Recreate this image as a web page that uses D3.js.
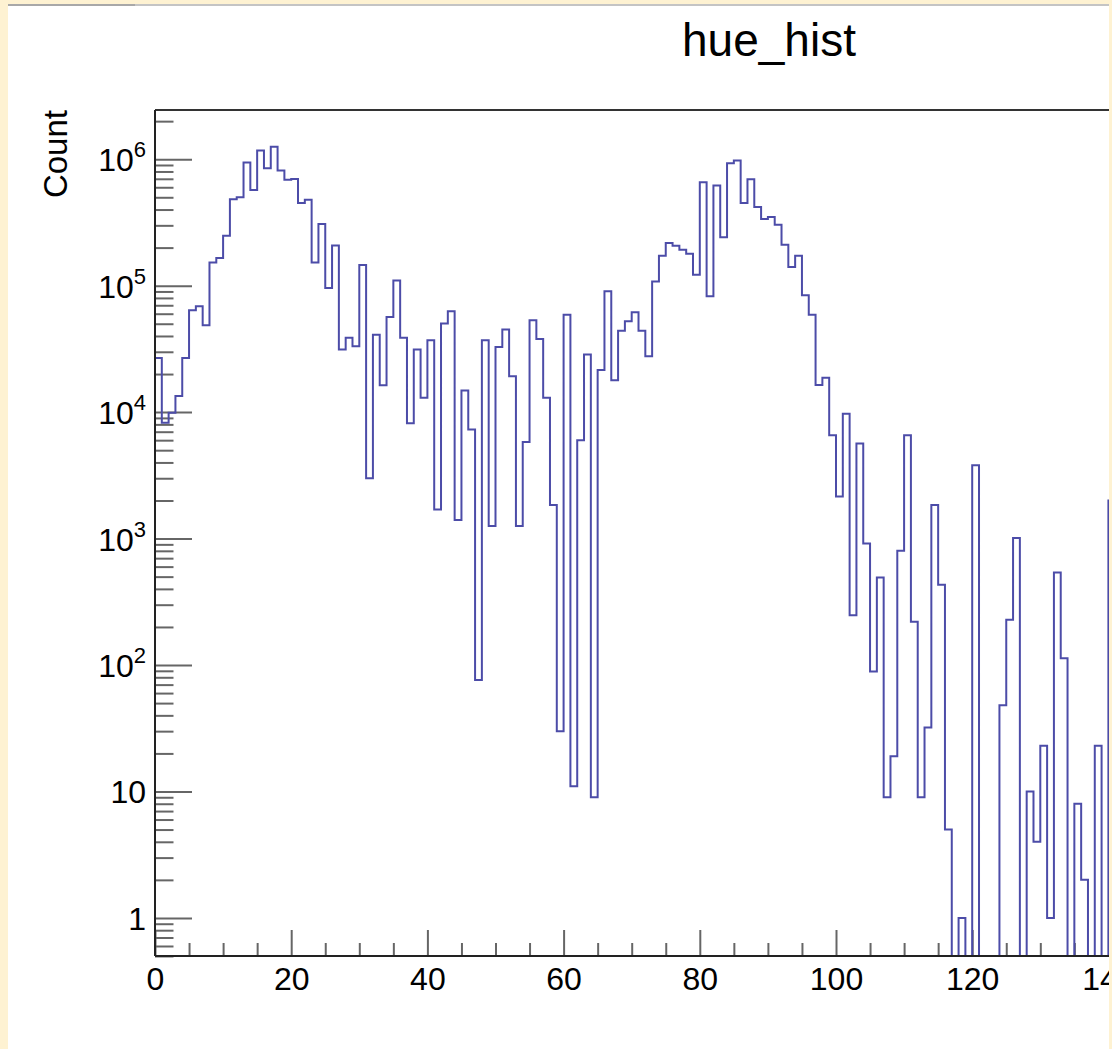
<!DOCTYPE html>
<html>
<head>
<meta charset="utf-8">
<script src="https://cdn.jsdelivr.net/npm/d3@7"></script>
<style>
html, body { margin: 0; padding: 0; background: #fef2d2; }
svg { display: block; }
text { font-family: "Liberation Sans", Arial, Helvetica, sans-serif; fill: #000; }
</style>
</head>
<body>
<svg id="chart" width="1112" height="1049"></svg>
<script>
// ---------------- data ----------------
const chartTitle = "hue_hist";
const yAxisTitle = "Count";
const binWidth = 1;
const xRange = [0, 180];
// counts per hue bin, starting at bin [0,1)
const counts = [
  26800, 8250, 9900, 13400, 26800, 63800, 68700, 48600, 152700, 165500,
  248000, 483000, 501000, 940000, 572000, 1170000, 849000, 1257000, 813000, 687000,
  699000, 450000, 477000, 152700, 308000, 95900, 208000, 31300, 38700, 33200,
  146000, 3000, 41000, 16300, 56600, 110000, 38700, 8150, 31300, 13000,
  37000, 1700, 50100, 62700, 1400, 14800, 7300, 76, 37000, 1260,
  32800, 45000, 19200, 1260, 5800, 53200, 37900, 13000, 1840, 30,
  59000, 11, 6000, 28500, 9, 21500, 90200, 17900, 44100, 52300,
  61500, 44100, 27700, 108000, 172500, 217000, 207000, 192000, 179000, 122000,
  658000, 82400, 619000, 242000, 930000, 975000, 450000, 695000, 418000, 336000,
  349000, 303000, 211000, 140600, 172500, 83800, 59000, 16400, 18700, 6550,
  2150, 9700, 248, 5660, 915, 89, 493, 9, 19, 800,
  6550, 220, 9, 32, 1840, 431, 5, 0, 1, 0,
  3800, 0, 0, 0, 48, 228, 1010, 0, 10, 4,
  23, 1, 540, 113, 0, 8, 2, 0, 23, 0,
  2000
];
const xMajorTicks = [0, 20, 40, 60, 80, 100, 120, 140, 160, 180];
const xTickLabels = ["0", "20", "40", "60", "80", "100", "120", "140", "160", "180"];
const yMajorTicks = [1, 10, 100, 1000, 10000, 100000, 1000000];
const yTickLabels = ["1", "10", "10^2", "10^3", "10^4", "10^5", "10^6"];
const yDomain = [0.5, 2.45e6];

// ---------------- layout ----------------
const W = 1112, H = 1049;
const plot = { left: 155, top: 110, bottom: 956, right: 155 + 180 * 6.81 };
const visibleRight = 1109;

const svg = d3.select("#chart");

// white canvas area with screenshot edge
svg.append("rect").attr("x", 8).attr("y", 5).attr("width", visibleRight - 8).attr("height", H - 5).attr("fill", "#ffffff");
svg.append("line").attr("x1", 8).attr("x2", visibleRight).attr("y1", 5).attr("y2", 5)
  .attr("stroke", "#c4c4c4").attr("stroke-width", 2);
svg.append("line").attr("x1", 8).attr("x2", 135).attr("y1", 5).attr("y2", 5)
  .attr("stroke", "#a8a8a8").attr("stroke-width", 2);

const x = d3.scaleLinear().domain(xRange).range([plot.left, plot.right]);
const y = d3.scaleLog().domain(yDomain).range([plot.bottom, plot.top]);

svg.append("defs").append("clipPath").attr("id", "clipVis")
  .append("rect").attr("x", 0).attr("y", 0).attr("width", visibleRight).attr("height", H);
svg.append("defs").append("clipPath").attr("id", "clipPlot")
  .append("rect").attr("x", plot.left - 2).attr("y", plot.top - 2)
  .attr("width", visibleRight - plot.left + 2).attr("height", plot.bottom - plot.top + 4);

const g = svg.append("g").attr("clip-path", "url(#clipVis)");

// ---------------- axes ticks ----------------
const xMinor = d3.range(xRange[0], xRange[1] + 0.001, 5).filter(v => !xMajorTicks.includes(v));
const xAxisMajor = d3.axisBottom(x).tickValues(xMajorTicks)
  .tickFormat((d, i) => xTickLabels[i]).tickSizeInner(-26).tickSizeOuter(0).tickPadding(11);
const xAxisMinor = d3.axisBottom(x).tickValues(xMinor).tickFormat("").tickSizeInner(-13).tickSizeOuter(0);

const gxMinor = g.append("g").attr("transform", `translate(0,${plot.bottom})`).call(xAxisMinor);
const gx = g.append("g").attr("transform", `translate(0,${plot.bottom})`).call(xAxisMajor);
[gx, gxMinor].forEach(a => {
  a.select(".domain").remove();
  a.selectAll(".tick line").attr("stroke", "#666").attr("stroke-width", 2);
});
gx.selectAll(".tick text").attr("font-size", 32).attr("font-family", "Liberation Sans, Arial, sans-serif").attr("fill", "#000");

// y minor ticks (2..9 x decade)
const yMinor = [];
[0.1, 1, 10, 100, 1000, 10000, 100000, 1000000].forEach(dec => {
  for (let k = 2; k <= 9; k++) {
    const v = dec * k;
    if (v >= yDomain[0] && v <= yDomain[1]) yMinor.push(v);
  }
});
const yAxisMajor = d3.axisLeft(y).tickValues(yMajorTicks).tickFormat("").tickSizeInner(-37).tickSizeOuter(0);
const yAxisMinor = d3.axisLeft(y).tickValues(yMinor).tickFormat("").tickSizeInner(-18.5).tickSizeOuter(0);
const gyMinor = g.append("g").attr("transform", `translate(${plot.left},0)`).call(yAxisMinor);
const gy = g.append("g").attr("transform", `translate(${plot.left},0)`).call(yAxisMajor);
[gy, gyMinor].forEach(a => {
  a.select(".domain").remove();
  a.selectAll(".tick line").attr("stroke", "#666").attr("stroke-width", 2);
});

// y tick labels with superscripts
yMajorTicks.forEach((v, i) => {
  const lab = yTickLabels[i];
  const t = g.append("text").attr("x", plot.left - 9).attr("y", y(v) + 12)
    .attr("text-anchor", "end").attr("font-size", 32);
  if (lab.includes("^")) {
    const [base, exp] = lab.split("^");
    t.append("tspan").text(base);
    t.append("tspan").attr("font-size", 22).attr("dy", -14).text(exp);
  } else {
    t.text(lab);
  }
});

// ---------------- histogram ----------------
const pts = counts.map((c, i) => ({ x: i * binWidth, c: c }));
pts.push({ x: counts.length * binWidth, c: counts[counts.length - 1] });
const clampY = c => y(Math.max(c, yDomain[0]));
const step = d3.line().x(d => x(d.x)).y(d => clampY(d.c)).curve(d3.curveStepAfter);
const first = [{ x: 0, c: 0 }];
const last = [{ x: counts.length * binWidth, c: 0 }];
g.append("path")
  .attr("clip-path", "url(#clipPlot)")
  .attr("d", d3.line().x(d => x(d.x)).y(d => clampY(d.c))(first) .replace(/^M/, "M") + "L" + step(pts).slice(1) + "L" + x(last[0].x) + "," + clampY(0))
  .attr("fill", "none").attr("stroke", "#4c4ca8").attr("stroke-width", 2).attr("stroke-linejoin", "miter");

// ---------------- frame ----------------
g.append("line").attr("x1", plot.left).attr("x2", plot.right).attr("y1", plot.top).attr("y2", plot.top)
  .attr("stroke", "#333").attr("stroke-width", 2);
g.append("line").attr("x1", plot.left).attr("x2", plot.right).attr("y1", plot.bottom).attr("y2", plot.bottom)
  .attr("stroke", "#222").attr("stroke-width", 2);
g.append("line").attr("x1", plot.left).attr("x2", plot.left).attr("y1", plot.top).attr("y2", plot.bottom)
  .attr("stroke", "#222").attr("stroke-width", 2);

// ---------------- titles ----------------
g.append("text").attr("x", 769).attr("y", 56).attr("text-anchor", "middle")
  .attr("font-size", 46).text(chartTitle);
g.append("text").attr("transform", `translate(67,${plot.top}) rotate(-90)`)
  .attr("text-anchor", "end").attr("font-size", 33).text(yAxisTitle);
</script>
</body>
</html>
